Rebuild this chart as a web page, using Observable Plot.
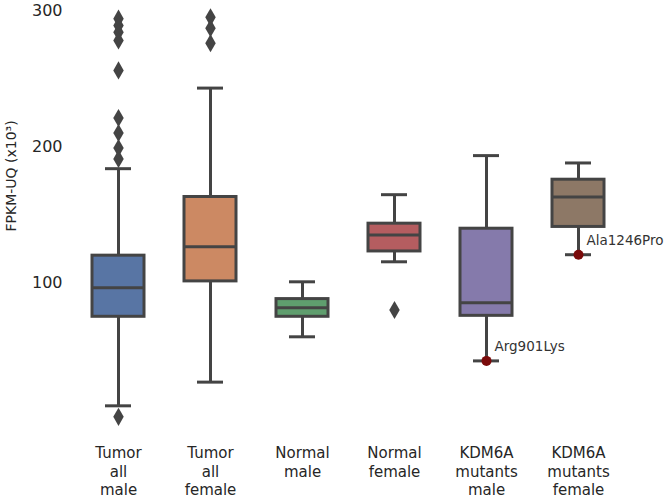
<!DOCTYPE html>
<html><head><meta charset="utf-8">
<script src="https://cdn.jsdelivr.net/npm/d3@7"></script>
<script src="https://cdn.jsdelivr.net/npm/@observablehq/plot@0.6"></script>
<style>body{margin:0;background:#fff;} svg{display:block;}</style>
</head><body><div id="chart"></div>
<script>
const categories = ["Tumor\nall\nmale", "Tumor\nall\nfemale", "Normal\nmale", "Normal\nfemale", "KDM6A\nmutants\nmale", "KDM6A\nmutants\nfemale"];
const whiskerLow  = [9.6, 27, 60.3, 115.4, 42.6, 120.6];
const q1          = [75, 101, 75, 123, 75.7, 141];
const median      = [96.3, 126.5, 81.6, 135, 85.3, 163];
const q3          = [119.9, 163, 88, 143.4, 139.7, 175.7];
const whiskerHigh = [183.8, 243, 100.7, 164.7, 193.4, 188];
const boxColors   = ["#5875a4", "#cc8963", "#5f9e6e", "#b55d60", "#857aab", "#8d7866"];

const outlierGroup = [0,0,0,0,0,0,0,0,0,0, 1,1,1, 3];
const outlierValue = [294, 289, 284, 278, 256, 221, 210, 199, 191, 1.5, 295, 287, 276, 80];

const mutantGroup = [4, 5];
const mutantValue = [42.6, 120.6];
const mutantLabel = ["Arg901Lys", "Ala1246Pro"];

const yTicks = [100, 200, 300];
const yLabel = "FPKM-UQ (x10³)";

const boxes = categories.map((c, i) => ({cat: c, lo: whiskerLow[i], q1: q1[i], med: median[i], q3: q3[i], hi: whiskerHigh[i], color: boxColors[i]}));
const outliers = outlierGroup.map((g, i) => ({cat: categories[g], v: outlierValue[i]}));
const mutants = mutantGroup.map((g, i) => ({cat: categories[g], v: mutantValue[i], label: mutantLabel[i]}));

const gray = "#444444";
const plot = Plot.plot({
  width: 669,
  height: 499,
  marginLeft: 70.6,
  marginRight: 42.9,
  marginTop: 10,
  marginBottom: 67,
  style: {fontFamily: "DejaVu Sans", color: "#262626", background: "#fff"},
  x: {domain: categories, paddingInner: 0.43, paddingOuter: 0.215},
  y: {domain: [-10, 300]},
  marks: [
    Plot.axisY({ticks: yTicks, tickSize: 0, tickPadding: 8.6, fontSize: 16, label: null}),
    Plot.axisX({tickSize: 0, tickPadding: 12, fontSize: 15, lineHeight: 1.25, label: null}),
    Plot.text([yLabel], {text: d => d, frameAnchor: "left", rotate: -90, dx: -59.6, dy: 10, fontSize: 14}),
    Plot.ruleX(boxes, {x: "cat", y1: "lo", y2: "q1", stroke: gray, strokeWidth: 3}),
    Plot.ruleX(boxes, {x: "cat", y1: "q3", y2: "hi", stroke: gray, strokeWidth: 3}),
    Plot.tickY(boxes, {x: "cat", y: "lo", stroke: gray, strokeWidth: 3, insetLeft: 13, insetRight: 13}),
    Plot.tickY(boxes, {x: "cat", y: "hi", stroke: gray, strokeWidth: 3, insetLeft: 13, insetRight: 13}),
    Plot.barY(boxes, {x: "cat", y1: "q1", y2: "q3", fill: "color", stroke: gray, strokeWidth: 3}),
    Plot.tickY(boxes, {x: "cat", y: "med", stroke: gray, strokeWidth: 3}),
    Plot.dot(outliers, {x: "cat", y: "v", symbol: "diamond", r: 5.5, fill: gray, stroke: null}),
    Plot.dot(mutants, {x: "cat", y: "v", r: 5, fill: "#7a0a0a", stroke: null}),
    Plot.text(mutants, {x: "cat", y: "v", text: "label", textAnchor: "start", dx: 8, dy: -14, fontSize: 13.5, fill: "#333"})
  ]
});
document.getElementById("chart").appendChild(plot);
</script>
</body></html>
